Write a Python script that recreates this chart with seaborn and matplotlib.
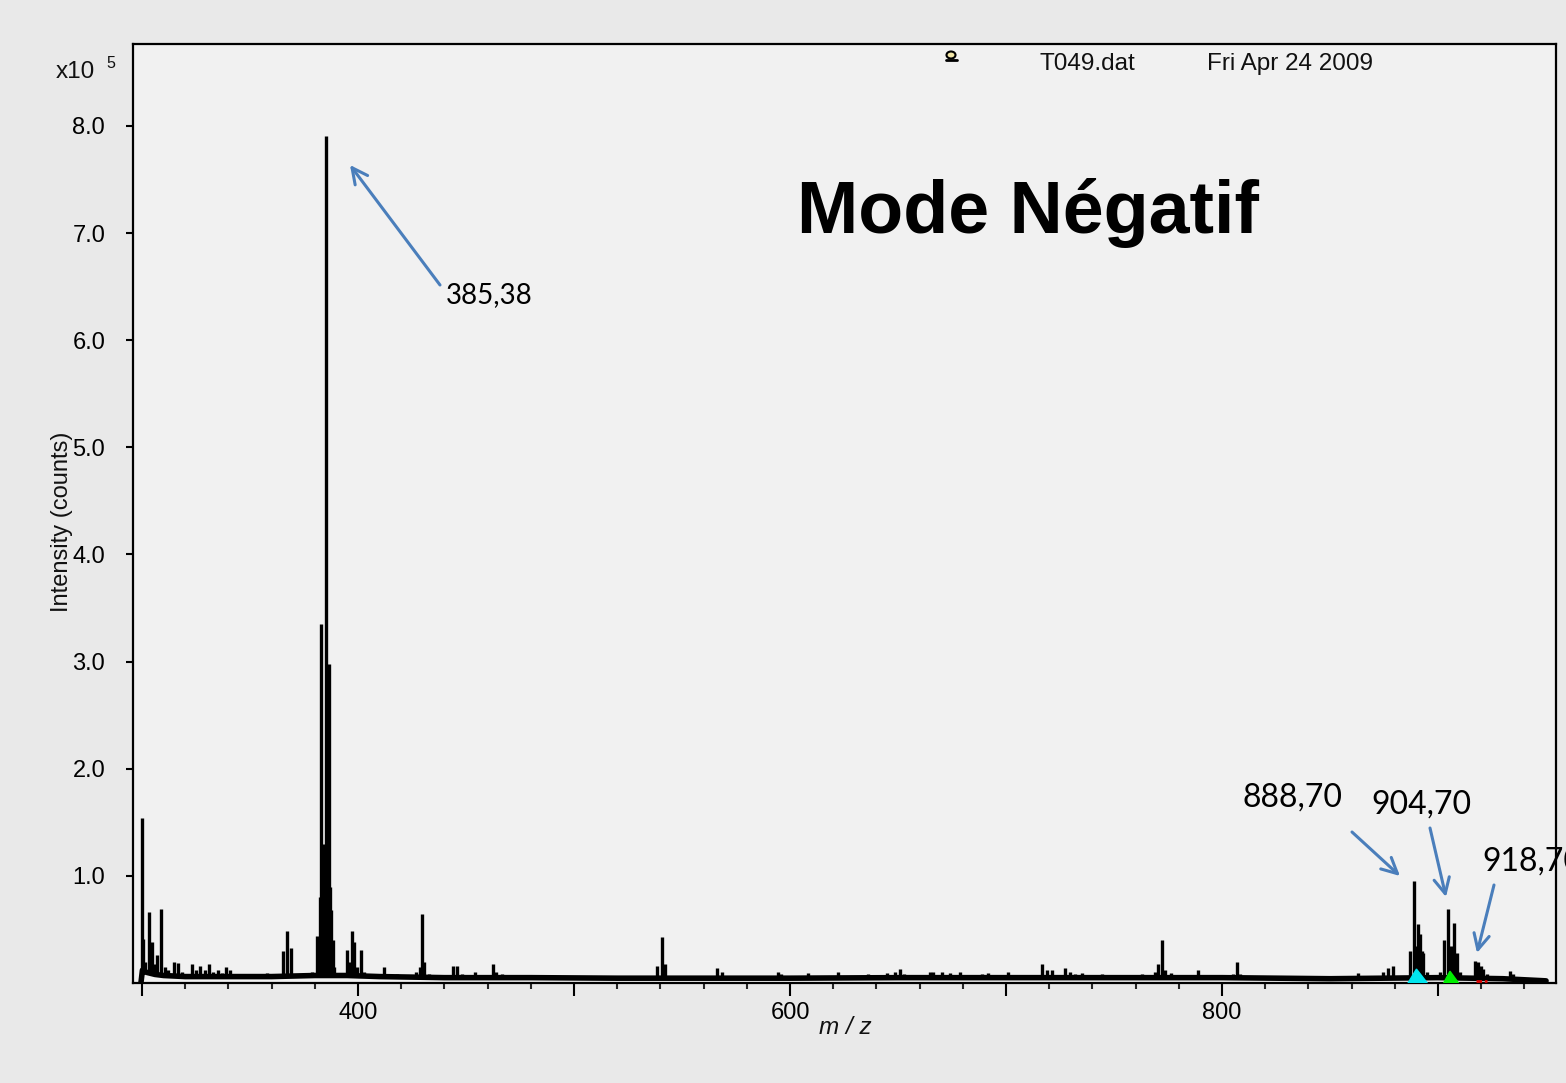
import numpy as np
import pandas as pd
import matplotlib
matplotlib.use("Agg")
import matplotlib.pyplot as plt
import seaborn as sns
from matplotlib.patches import Ellipse
from matplotlib.lines import Line2D
from matplotlib.ticker import MultipleLocator, FixedLocator, FuncFormatter

# ---------------- data (x10^5 counts) ----------------
peak_mz = [300.0, 300.6, 301.5, 303.2, 304.0, 304.8, 306.0, 307.1, 308.9, 310.5, 312.0, 314.8, 316.8,
           318.5, 320.0, 323.0, 325.0, 326.9, 329.0, 331.2, 333.0, 335.0, 337.0, 338.7, 340.7,
           343.0, 346.0, 350.0, 354.0, 356.0, 358.0, 360.0, 362.5, 365.1, 367.3, 369.1, 371.0,
           373.0, 376.0, 378.5, 381.2, 382.5, 383.0, 383.3, 383.6, 383.9, 384.2, 384.5, 384.8,
           385.1, 385.38, 385.7, 385.9, 386.1, 386.4, 386.7, 387.0, 387.5, 388.2, 389.0,
           390.5, 392.0, 394.9, 396.0, 397.2, 398.2, 399.5, 401.2, 403.0, 405.0, 408.0, 412.0,
           415.0, 418.0, 421.0, 424.0, 427.0, 428.5, 429.5, 430.5, 433.0, 436.0, 440.0, 444.0,
           445.8, 448.0, 451.0, 454.0, 458.0, 462.5, 464.0, 466.5, 470.0, 475.8, 480.0, 484.0,
           488.0, 492.0, 496.0, 500.0, 505.0, 510.0, 515.0, 520.0, 523.6, 527.0, 531.0, 535.0,
           538.3, 540.6, 542.1, 545.0, 549.0, 552.0, 556.0, 560.0, 566.0, 568.4, 572.0, 576.0,
           580.0, 585.0, 590.0, 594.4, 596.0, 600.0, 604.0, 608.5, 612.0, 616.0, 622.4, 626.0,
           630.0, 636.3, 640.0, 644.8, 648.6, 650.9, 652.8, 656.0, 660.0, 664.8, 666.4, 670.2,
           674.1, 678.7, 682.0, 685.0, 688.7, 691.8, 695.0, 701.0, 704.0, 708.0, 712.0, 716.5,
           718.8, 721.2, 724.0, 727.3, 729.6, 732.0, 735.0, 738.0, 741.0, 744.3, 747.0, 750.5,
           754.0, 758.0, 762.8, 766.0, 769.0, 770.5, 772.0, 773.5, 776.3, 780.0, 784.0, 789.0,
           792.0, 795.0, 798.3, 802.0, 805.0, 806.8, 808.3, 812.0, 817.6, 822.0, 826.0, 829.9,
           835.3, 840.0, 845.4, 851.5, 856.0, 860.0, 863.1, 865.3, 870.0, 873.0, 874.7, 877.0,
           879.3, 881.0, 884.0, 887.0, 888.7, 889.6, 890.9, 891.7, 892.5, 893.2, 894.8, 896.0,
           899.0, 901.0, 902.9, 904.7, 906.0, 907.4, 908.6, 910.0, 913.0, 917.1, 918.7, 919.8,
           921.0, 922.5, 925.0, 929.0, 932.0, 933.3, 934.7, 936.0, 940.0, 944.0, 948.0]
peak_int = [1.54, 0.41, 0.20, 0.66, 0.22, 0.38, 0.18, 0.26, 0.69, 0.15, 0.12, 0.20, 0.19,
            0.10, 0.08, 0.18, 0.12, 0.16, 0.12, 0.18, 0.10, 0.12, 0.09, 0.15, 0.12,
            0.07, 0.06, 0.05, 0.07, 0.06, 0.09, 0.07, 0.08, 0.30, 0.49, 0.33, 0.08,
            0.06, 0.07, 0.10, 0.44, 0.80, 3.35, 0.85, 1.10, 0.90, 1.30, 0.90, 1.20,
            0.90, 7.91, 1.60, 0.90, 0.85, 2.98, 0.85, 0.90, 0.68, 0.40, 0.15,
            0.08, 0.07, 0.31, 0.20, 0.49, 0.38, 0.15, 0.31, 0.10, 0.08, 0.06, 0.15,
            0.07, 0.08, 0.06, 0.07, 0.10, 0.15, 0.64, 0.20, 0.08, 0.07, 0.06, 0.16,
            0.16, 0.08, 0.07, 0.10, 0.06, 0.18, 0.10, 0.08, 0.06, 0.07, 0.05, 0.05,
            0.06, 0.05, 0.05, 0.04, 0.05, 0.04, 0.05, 0.06, 0.07, 0.05, 0.04, 0.05,
            0.16, 0.43, 0.18, 0.06, 0.05, 0.06, 0.05, 0.05, 0.14, 0.10, 0.05, 0.05,
            0.05, 0.04, 0.05, 0.10, 0.08, 0.05, 0.04, 0.09, 0.05, 0.04, 0.10, 0.05,
            0.05, 0.08, 0.06, 0.09, 0.10, 0.13, 0.08, 0.05, 0.05, 0.10, 0.10, 0.10,
            0.09, 0.10, 0.06, 0.05, 0.08, 0.09, 0.05, 0.10, 0.06, 0.06, 0.07, 0.18,
            0.12, 0.12, 0.07, 0.14, 0.10, 0.08, 0.09, 0.06, 0.05, 0.08, 0.06, 0.07,
            0.05, 0.06, 0.08, 0.07, 0.10, 0.18, 0.40, 0.12, 0.09, 0.06, 0.05, 0.12,
            0.06, 0.05, 0.07, 0.05, 0.08, 0.20, 0.08, 0.05, 0.06, 0.05, 0.05, 0.06,
            0.06, 0.05, 0.06, 0.05, 0.04, 0.05, 0.09, 0.06, 0.05, 0.06, 0.10, 0.14,
            0.16, 0.06, 0.05, 0.30, 0.95, 0.35, 0.55, 0.46, 0.30, 0.28, 0.10, 0.06,
            0.05, 0.10, 0.40, 0.69, 0.35, 0.56, 0.28, 0.10, 0.05, 0.21, 0.20, 0.16,
            0.13, 0.08, 0.04, 0.04, 0.06, 0.11, 0.08, 0.05, 0.03, 0.03, 0.02]

base_mz = [299.5, 300.2, 302, 306, 310, 320, 340, 360, 380, 395, 410, 440, 480, 520, 560,
           600, 650, 700, 750, 800, 850, 900, 930, 950]
base_int = [0.0, 0.12, 0.10, 0.08, 0.07, 0.06, 0.06, 0.06, 0.07, 0.07, 0.06, 0.05, 0.05,
            0.045, 0.045, 0.045, 0.05, 0.05, 0.05, 0.05, 0.04, 0.05, 0.04, 0.02]

# isotope-cluster highlight areas
cyan_mz = [886.1, 890.0, 895.0]
cyan_int = [0.0, 0.13, 0.0]
green_mz = [902.6, 905.5, 909.5]
green_int = [0.0, 0.11, 0.0]
red_mz = [917.6, 922.5]
red_int = [0.02, 0.02]

labels = ["385,38", "888,70", "904,70", "918,70"]
x_major_labels = {400: "400", 600: "600", 800: "800"}
y_ticks = [1.0, 2.0, 3.0, 4.0, 5.0, 6.0, 7.0, 8.0]

# ---------------- figure ----------------
W, H = 1566, 1083
sns.set_theme(style="white")
plt.rcParams["font.family"] = ["Liberation Sans", "DejaVu Sans"]

fig = plt.figure(figsize=(W / 100, H / 100), dpi=100)
fig.patch.set_facecolor("#e9e9e9")

L, R, T, B = 133, 1556, 44, 983
ax = fig.add_axes([L / W, 1 - B / H, (R - L) / W, (B - T) / H])
ax.set_facecolor("#f1f1f1")


def fp(x, y):
    return (x / W, 1 - y / H)


# sticks rise from the baseline trace
stick_base = np.interp(peak_mz, base_mz, base_int)
rows = []
for i, (m, b, h) in enumerate(zip(peak_mz, stick_base, peak_int)):
    rows.append({"mz": m, "int": min(b, h), "pk": i})
    rows.append({"mz": m, "int": h, "pk": i})
sticks = pd.DataFrame(rows)
sns.lineplot(data=sticks, x="mz", y="int", units="pk", estimator=None, color="black",
             lw=2.4, ax=ax, legend=False, solid_capstyle="butt")

base = pd.DataFrame({"mz": base_mz, "int": base_int})
sns.lineplot(data=base, x="mz", y="int", color="black", lw=4, ax=ax, legend=False)

ax.fill(cyan_mz, cyan_int, color="#00e5ee", zorder=3)
ax.fill(green_mz, green_int, color="#00ee00", zorder=3)
ax.plot(red_mz, red_int, color="#dd0000", lw=2, ls=(0, (2, 1)), zorder=3)

ax.set_xlim(295.83, 954.6)
ax.set_ylim(0, 8.765)

ax.xaxis.set_major_locator(MultipleLocator(100))
ax.xaxis.set_minor_locator(MultipleLocator(20))
ax.xaxis.set_major_formatter(FuncFormatter(lambda v, p: x_major_labels.get(int(round(v)), "")))
ax.yaxis.set_major_locator(FixedLocator(y_ticks))
ax.yaxis.set_major_formatter(FuncFormatter(lambda v, p: f"{v:.1f}"))

ax.tick_params(axis="x", which="major", direction="out", length=9.5, width=1.5,
               labelsize=17, pad=4, bottom=True, colors="black")
ax.tick_params(axis="x", which="minor", direction="out", length=4.5, width=1.5, bottom=True)
ax.tick_params(axis="y", which="major", direction="out", length=5, width=1.5,
               labelsize=17, pad=15, left=True, colors="black")
for s in ax.spines.values():
    s.set_visible(True)
    s.set_color("black")
    s.set_linewidth(1.6)
ax.set_xlabel("")
ax.set_ylabel("")

# axis texts
fig.text(*fp(62, 522), "Intensity (counts)", rotation=90, fontsize=17,
         ha="center", va="center", color="#111111")
fig.text(*fp(845, 1028), "m / z", fontsize=17.5, style="italic", ha="center",
         va="center", color="#111111")
fig.text(*fp(56, 72), "x10", fontsize=17.5, ha="left", va="center", color="#111111")
fig.text(*fp(106, 64), "5", fontsize=11.5, ha="left", va="center", color="#111111")
fig.text(*fp(1040, 64), "T049.dat", fontsize=17.5, ha="left", va="center", color="#111111")
fig.text(*fp(1207, 64), "Fri Apr 24 2009", fontsize=17.5, ha="left", va="center",
         color="#111111")
fig.text(*fp(1028, 213), "Mode Négatif", fontsize=53, fontweight="bold", ha="center",
         va="center", color="black")

# small icon
fig.patches.append(Ellipse(fp(951, 55), 9 / W, 7 / H, transform=fig.transFigure,
                           facecolor="#f3e7a8", edgecolor="black", lw=1.5))
fig.lines.append(Line2D([946 / W, 957 / W], [1 - 60 / H, 1 - 60 / H],
                        transform=fig.transFigure, color="black", lw=2))

# annotations
acol = "#4a7ebb"
lab_font = ["Lato", "DejaVu Sans"]
fig.text(*fp(446, 295), labels[0], fontsize=20, family=lab_font, ha="left",
         va="center", color="black")
fig.text(*fp(1242, 798), labels[1], fontsize=23, family=lab_font, ha="left",
         va="center", color="black")
fig.text(*fp(1371, 805), labels[2], fontsize=23, family=lab_font, ha="left",
         va="center", color="black")
fig.text(*fp(1482, 862), labels[3], fontsize=23, family=lab_font, ha="left",
         va="center", color="black")

arrows = [((350, 165), (440, 285)),
          ((1400, 876), (1352, 832)),
          ((1446, 897), (1430, 828)),
          ((1477, 953), (1494, 885))]
for tip, tail in arrows:
    ax.annotate("", xy=fp(*tip), xycoords="figure fraction",
                xytext=fp(*tail), textcoords="figure fraction",
                arrowprops=dict(arrowstyle="->", color=acol, lw=2.2,
                                mutation_scale=28, shrinkA=0, shrinkB=0),
                annotation_clip=False)

fig.savefig("out.png", dpi=100, facecolor=fig.get_facecolor())
